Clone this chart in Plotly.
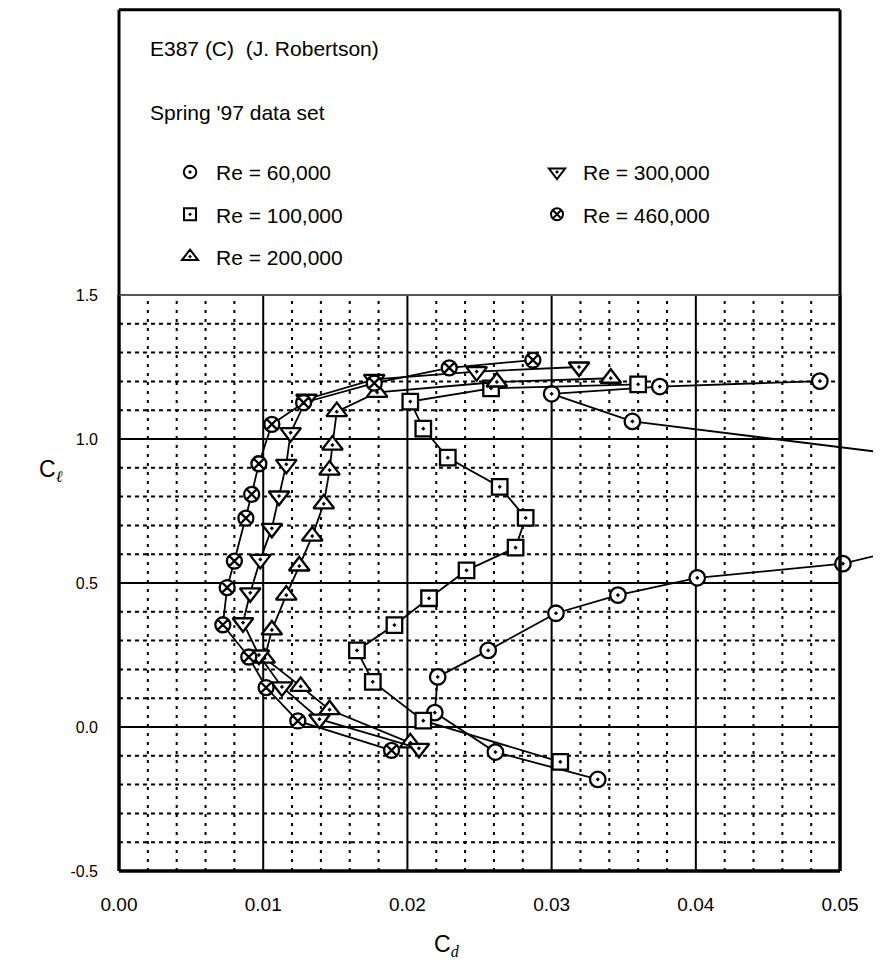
import plotly.graph_objects as go

# ---------------- data ----------------
re_labels = ["Re = 60,000", "Re = 100,000", "Re = 200,000", "Re = 300,000", "Re = 460,000"]

cd_60k = [0.0332, 0.0261, 0.0219, 0.0221, 0.0256, 0.0303, 0.0346, 0.0401, 0.0502, 0.0720, 0.0356, 0.0300, 0.0375, 0.0486]
cl_60k = [-0.182, -0.087, 0.050, 0.174, 0.266, 0.395, 0.458, 0.518, 0.567, 0.835, 1.061, 1.157, 1.182, 1.201]

cd_100k = [0.0306, 0.0211, 0.0176, 0.0165, 0.0191, 0.0215, 0.0241, 0.0275, 0.0282, 0.0264, 0.0228, 0.0211, 0.0202, 0.0258, 0.0360]
cl_100k = [-0.121, 0.022, 0.157, 0.266, 0.354, 0.447, 0.544, 0.623, 0.726, 0.834, 0.935, 1.036, 1.130, 1.176, 1.190]

cd_200k = [0.0202, 0.0146, 0.0126, 0.0101, 0.0106, 0.0116, 0.0125, 0.0134, 0.0142, 0.0146, 0.0148, 0.0151, 0.0179, 0.0262, 0.0341]
cl_200k = [-0.055, 0.060, 0.141, 0.239, 0.337, 0.458, 0.559, 0.663, 0.775, 0.892, 0.979, 1.095, 1.162, 1.198, 1.211]

cd_300k = [0.0208, 0.0139, 0.0113, 0.0097, 0.0086, 0.0091, 0.0098, 0.0106, 0.0111, 0.0116, 0.0119, 0.0130, 0.0177, 0.0248, 0.0319]
cl_300k = [-0.074, 0.027, 0.139, 0.250, 0.362, 0.466, 0.582, 0.690, 0.802, 0.912, 1.022, 1.138, 1.207, 1.234, 1.250]

cd_460k = [0.0189, 0.0124, 0.0102, 0.0090, 0.0072, 0.0075, 0.0080, 0.0088, 0.0092, 0.0097, 0.0106, 0.0128, 0.0177, 0.0229, 0.0287]
cl_460k = [-0.081, 0.021, 0.137, 0.243, 0.355, 0.484, 0.576, 0.725, 0.808, 0.914, 1.051, 1.126, 1.194, 1.247, 1.274]

x_tickvals = [0.00, 0.01, 0.02, 0.03, 0.04, 0.05]
x_ticktext = ["0.00", "0.01", "0.02", "0.03", "0.04", "0.05"]
y_tickvals = [-0.5, 0.0, 0.5, 1.0, 1.5]
y_ticktext = ["-0.5", "0.0", "0.5", "1.0", "1.5"]

title_line1 = "E387 (C)  (J. Robertson)"
title_line2 = "Spring '97 data set"

# ---------------- styling ----------------
FONT = "Liberation Sans, Arial, Helvetica, sans-serif"
XMAX = 0.05284          # axis runs slightly past 0.05 to the window edge
XFRAME = 0.05           # frame / grid end
frame_paper = XFRAME / XMAX

series = [
    (cd_60k, cl_60k, "circle-dot", 15.5, 12.5),
    (cd_100k, cl_100k, "square-dot", 15.5, 12),
    (cd_200k, cl_200k, "triangle-up-dot", 18, 14),
    (cd_300k, cl_300k, "triangle-down-dot", 18, 14),
    (cd_460k, cl_460k, "circle-x", 15, 12),
]

fig = go.Figure()

for (cd, cl, sym, size, lsize), name in zip(series, re_labels):
    fig.add_trace(go.Scatter(
        x=cd, y=cl, mode="lines+markers", name=name, showlegend=False,
        line=dict(color="black", width=1.8),
        marker=dict(symbol=sym, size=size, color="white",
                    line=dict(color="black", width=2.3)),
    ))

# legend-only entries (markers without line), split into two columns
for i, ((cd, cl, sym, size, lsize), name) in enumerate(zip(series, re_labels)):
    fig.add_trace(go.Scatter(
        x=[None], y=[None], mode="markers", name=name,
        legendgroup=name, legend="legend" if i < 3 else "legend2",
        marker=dict(symbol=sym, size=lsize, color="white",
                    line=dict(color="black", width=2)),
    ))

shapes = []
# minor vertical grid (dotted)
for k in range(1, 25):
    if k % 5 == 0:
        continue
    xv = k * 0.002
    shapes.append(dict(type="line", xref="x", yref="y", x0=xv, x1=xv, y0=-0.5, y1=1.5,
                       line=dict(color="black", width=2, dash="3px,6px"), layer="below"))
# minor horizontal grid (dashed)
for k in range(-4, 15):
    if k % 5 == 0:
        continue
    yv = k * 0.1
    shapes.append(dict(type="line", xref="x", yref="y", x0=0, x1=XFRAME, y0=yv, y1=yv,
                       line=dict(color="black", width=2, dash="4px,4px"), layer="below"))
# major grid (solid)
for xv in [0.01, 0.02, 0.03, 0.04]:
    shapes.append(dict(type="line", xref="x", yref="y", x0=xv, x1=xv, y0=-0.5, y1=1.5,
                       line=dict(color="black", width=2), layer="below"))
for yv in [0.0, 0.5, 1.0]:
    shapes.append(dict(type="line", xref="x", yref="y", x0=0, x1=XFRAME, y0=yv, y1=yv,
                       line=dict(color="black", width=2), layer="below"))
# plot frame
shapes.append(dict(type="line", xref="paper", yref="paper", x0=0, x1=0, y0=0, y1=1,
                   line=dict(color="black", width=3.5)))
shapes.append(dict(type="line", xref="paper", yref="paper", x0=0, x1=frame_paper, y0=0, y1=0,
                   line=dict(color="black", width=3.5)))
shapes.append(dict(type="line", xref="paper", yref="paper", x0=frame_paper, x1=frame_paper, y0=0, y1=1,
                   line=dict(color="black", width=3.5)))
shapes.append(dict(type="line", xref="paper", yref="paper", x0=0, x1=frame_paper, y0=1, y1=1,
                   line=dict(color="#555555", width=2)))
# legend box
BOX_TOP = 1.4951
shapes.append(dict(type="line", xref="paper", yref="paper", x0=0, x1=0, y0=1, y1=BOX_TOP,
                   line=dict(color="black", width=3)))
shapes.append(dict(type="line", xref="paper", yref="paper", x0=0, x1=frame_paper, y0=BOX_TOP, y1=BOX_TOP,
                   line=dict(color="black", width=3)))
shapes.append(dict(type="line", xref="paper", yref="paper", x0=frame_paper, x1=frame_paper, y0=1, y1=BOX_TOP,
                   line=dict(color="black", width=3)))

annotations = [
    dict(text=title_line1, xref="paper", yref="paper", x=0.038, y=1.4283,
         xanchor="left", yanchor="middle", showarrow=False,
         font=dict(family=FONT, size=21, color="black")),
    dict(text=title_line2, xref="paper", yref="paper", x=0.038, y=1.3172,
         xanchor="left", yanchor="middle", showarrow=False,
         font=dict(family=FONT, size=21, color="black")),
    dict(text="C<sub><span style='font-family:Liberation Serif, Times New Roman, serif'><i>d</i></span></sub>",
         xref="paper", yref="paper", x=(447 - 119) / 762, y=-0.13,
         xanchor="center", yanchor="middle", showarrow=False,
         font=dict(family=FONT, size=23, color="black")),
    dict(text="C<sub><span style='font-family:Liberation Serif, Times New Roman, serif'><i>ℓ</i></span></sub>",
         xref="paper", yref="paper", x=(51 - 119) / 762, y=0.695,
         xanchor="center", yanchor="middle", showarrow=False,
         font=dict(family=FONT, size=23, color="black")),
]

legend_common = dict(
    bgcolor="rgba(0,0,0,0)", borderwidth=0, orientation="v",
    font=dict(family=FONT, size=21, color="black"),
    tracegroupgap=12, itemwidth=42, xanchor="left", yanchor="top",
)

# the page body adds an 8px offset, so the figure is 8px smaller than the window
fig.update_layout(
    width=873, height=969,
    margin=dict(l=111, r=0, t=287, b=106, autoexpand=False),
    paper_bgcolor="white", plot_bgcolor="white",
    showlegend=True,
    legend=dict(x=0.0591, y=1.2485, **legend_common),
    legend2=dict(x=0.5407, y=1.2485, **legend_common),
    xaxis=dict(range=[0, XMAX], tickvals=x_tickvals, ticktext=x_ticktext,
               showgrid=False, zeroline=False, showline=False, ticks="",
               tickfont=dict(family=FONT, size=19, color="black"),
               ticklabelstandoff=20),
    yaxis=dict(range=[-0.5, 1.5], tickvals=y_tickvals, ticktext=y_ticktext,
               showgrid=False, zeroline=False, showline=False, ticks="",
               tickfont=dict(family=FONT, size=16, color="black"),
               ticklabelstandoff=20),
    shapes=shapes,
    annotations=annotations,
)

fig.write_html("out.html")
